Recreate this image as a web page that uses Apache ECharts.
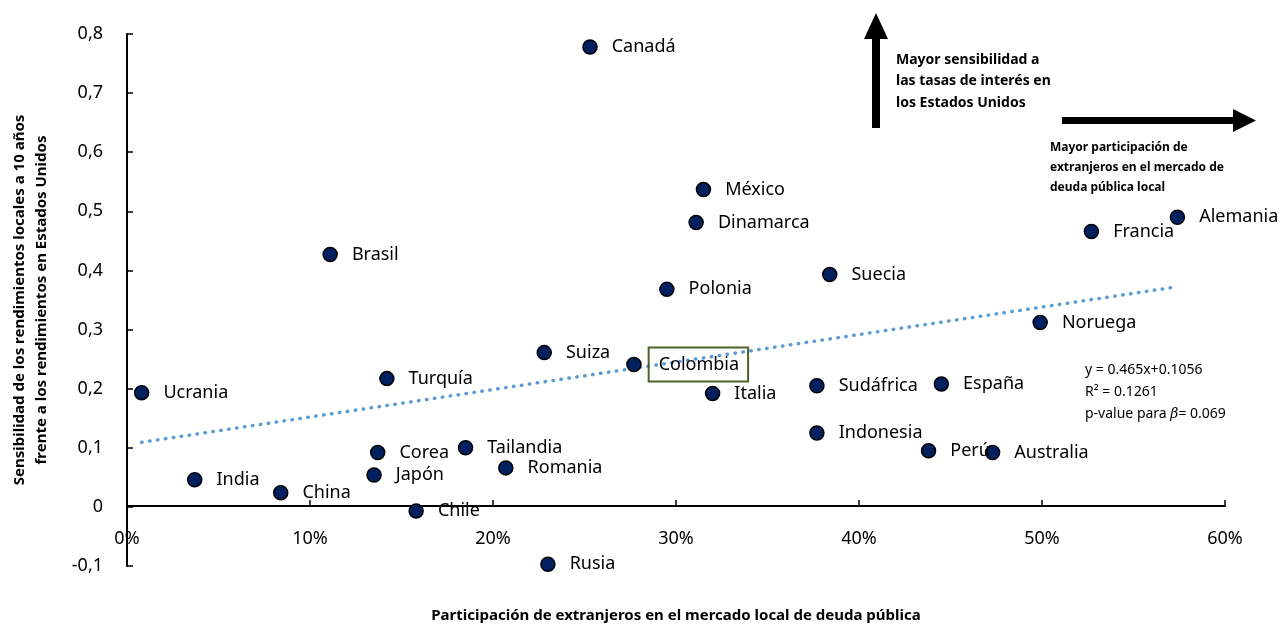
<!DOCTYPE html>
<html>
<head>
<meta charset="utf-8">
<script src="https://cdn.jsdelivr.net/npm/echarts@6/dist/echarts.min.js"></script>
<style>
  html, body { margin: 0; padding: 0; background: #fff; }
  #main { width: 1282px; height: 632px; }
</style>
</head>
<body>
<div id="main"></div>
<script>
// datos
var countries = ['Canadá', 'México', 'Dinamarca', 'Brasil', 'Alemania', 'Francia', 'Suecia', 'Polonia',
  'Noruega', 'Suiza', 'Colombia', 'Turquía', 'Ucrania', 'Italia', 'Sudáfrica', 'España', 'Indonesia',
  'Perú', 'Australia', 'Tailandia', 'Corea', 'Romania', 'Japón', 'India', 'China', 'Chile', 'Rusia'];
var foreignShare = [0.253, 0.315, 0.311, 0.111, 0.574, 0.527, 0.384, 0.295,
  0.499, 0.228, 0.277, 0.142, 0.008, 0.320, 0.377, 0.445, 0.377,
  0.438, 0.473, 0.185, 0.137, 0.207, 0.135, 0.037, 0.084, 0.158, 0.230];
var sensitivity = [0.778, 0.537, 0.481, 0.427, 0.490, 0.466, 0.393, 0.368,
  0.312, 0.261, 0.241, 0.217, 0.193, 0.192, 0.205, 0.208, 0.125,
  0.095, 0.092, 0.100, 0.092, 0.066, 0.054, 0.046, 0.024, -0.007, -0.097];

// recta de tendencia y = 0.465x + 0.1056, entre el menor y el mayor x
var trendCoef = [0.465, 0.1056];
var trendRange = [0.008, 0.574];

var xTicks = [0, 0.6, 0.1];
var yTicks = [-0.1, 0.8, 0.1];

var fontFam = 'Noto Sans';

var chart = echarts.init(document.getElementById('main'));

var points = countries.map(function (c, i) {
  var item = { name: c, value: [foreignShare[i], sensitivity[i]] };
  if (c === 'Colombia') {
    item.label = {
      distance: 7,
      borderColor: '#4f6228',
      borderWidth: 2,
      padding: [8, 9, 8, 10]
    };
  }
  return item;
});

var trendData = trendRange.map(function (x) {
  return [x, trendCoef[0] * x + trendCoef[1]];
});

var option = {
  animation: false,
  textStyle: { fontFamily: fontFam },
  grid: { left: 127, right: 57, top: 34, bottom: 66, outerBoundsMode: 'none', containLabel: false },
  xAxis: {
    type: 'value',
    min: xTicks[0], max: xTicks[1], interval: xTicks[2],
    position: 'bottom',
    offset: -60,   // eje x sobre la linea del cero
    name: 'Participación de extranjeros en el mercado local de deuda pública',
    nameLocation: 'middle',
    nameGap: 102,
    nameTextStyle: { fontSize: 15, fontWeight: 'bold', color: '#000' },
    axisLine: { onZero: false, lineStyle: { color: '#000', width: 2 } },
    axisTick: { inside: true, length: 6, lineStyle: { color: '#000', width: 1.5 } },
    axisLabel: {
      fontSize: 18, color: '#000', margin: 24,
      formatter: function (v) { return Math.round(v * 100) + '%'; }
    },
    splitLine: { show: false }
  },
  yAxis: {
    type: 'value',
    min: yTicks[0], max: yTicks[1], interval: yTicks[2],
    name: 'Sensibilidad de los rendimientos locales a 10 años\nfrente a los rendimientos en Estados Unidos',
    nameLocation: 'middle',
    nameGap: 74,
    nameRotate: 90,
    nameTextStyle: { fontSize: 15, fontWeight: 'bold', color: '#000', lineHeight: 22 },
    axisLine: { onZero: false, lineStyle: { color: '#000', width: 2 } },
    axisTick: { inside: true, length: 6, lineStyle: { color: '#000', width: 1.5 } },
    axisLabel: {
      fontSize: 18, color: '#000', margin: 24,
      formatter: function (v) {
        var r = Math.round(v * 10) / 10;
        if (r === 0) return '0';
        return r.toFixed(1).replace('.', ',');
      }
    },
    splitLine: { show: false }
  },
  series: [
    {
      type: 'line',
      data: trendData,
      symbol: 'none',
      silent: true,
      lineStyle: { color: '#5b9bd5', width: 3.5, type: [0.5, 7.5], cap: 'round' },
      z: 1
    },
    {
      type: 'scatter',
      data: points,
      symbolSize: 14,
      itemStyle: { color: '#002060', borderColor: '#000', borderWidth: 1.5, opacity: 1 },
      label: {
        show: true,
        position: 'right',
        distance: 14,
        formatter: '{b}',
        fontSize: 18,
        color: '#000'
      },
      z: 3
    }
  ],
  graphic: [
    // flecha vertical
    { type: 'rect', shape: { x: 872, y: 36, width: 8, height: 92 }, style: { fill: '#000' } },
    { type: 'polygon', shape: { points: [[864, 39], [888, 39], [876, 13]] }, style: { fill: '#000' } },
    // flecha horizontal
    { type: 'rect', shape: { x: 1062, y: 117, width: 174, height: 7 }, style: { fill: '#000' } },
    { type: 'polygon', shape: { points: [[1233, 109], [1233, 132], [1256, 120.5]] }, style: { fill: '#000' } },
    {
      type: 'text', left: 896, top: 49,
      style: {
        text: 'Mayor sensibilidad a\nlas tasas de interés en\nlos Estados Unidos',
        font: 'bold 14px "Noto Sans"', fill: '#000', lineHeight: 21.5
      }
    },
    {
      type: 'text', left: 1050, top: 138,
      style: {
        text: 'Mayor participación de\nextranjeros en el mercado de\ndeuda pública local',
        font: 'bold 12px "Noto Sans"', fill: '#000', lineHeight: 20
      }
    },
    {
      type: 'text', left: 1085, top: 359,
      style: {
        text: 'y = 0.465x+0.1056\nR² = 0.1261\np-value para {b|β}= 0.069',
        font: '14px "Noto Sans"', fill: '#000', lineHeight: 22,
        rich: { b: { fontStyle: 'italic', fontFamily: 'DejaVu Serif', fontSize: 14 } }
      }
    }
  ]
};

chart.setOption(option);
</script>
</body>
</html>
